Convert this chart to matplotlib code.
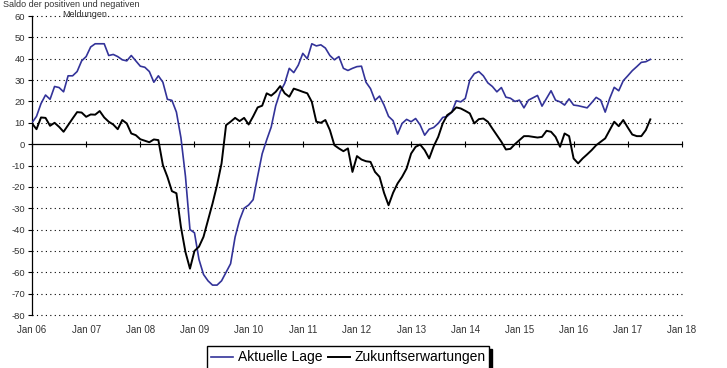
import matplotlib
matplotlib.use('Agg')
import matplotlib.pyplot as plt
import numpy as np

plt.rcParams['font.family'] = ['Liberation Sans', 'DejaVu Sans']
plt.rcParams['axes.unicode_minus'] = False

# monthly values, Jan 2006 .. Jun 2017
aktuelle_lage = [
    10, 13, 19, 23, 21, 27, 26.5, 24.5, 32, 32, 34, 39,
    41, 45.5, 47, 47, 47, 41.5, 42, 41, 39.5, 39, 41.5, 39,
    36.5, 36, 34, 29, 32, 29, 21, 20.5, 15, 3, -15, -40,
    -41.5, -54, -61, -64, -66, -66, -64, -60, -56, -43.5, -35.5, -30,
    -28.5, -26, -15, -4.5, 2, 8, 18, 24.5, 28.5, 35.5, 33.5, 37,
    42.5, 40, 47, 46, 46.5, 45, 41.5, 39.5, 41, 35.5, 34.5, 35.5,
    36.3, 36.5, 29, 26, 20.5, 22.5, 18.3, 13, 11, 4.7, 9.7, 11.6,
    10.5, 12, 9, 4.2, 7, 7.8, 9.7, 12.5, 13, 15, 20.3, 19.8,
    21.4, 30, 33, 34, 32, 28.7, 27, 24.5, 26.5, 22, 21.5, 20,
    20.6, 17, 20.6, 21.7, 22.8, 17.8, 21.4, 25, 20.6, 19.8, 18.3, 21.2,
    18.3, 18, 17.5, 17, 19.4, 21.9, 20.6, 15, 21.4, 26.6, 25, 29.7,
    32, 34.4, 36.3, 38.3, 38.6, 39.7,
]
zukunftserwartungen = [
    9.7, 7, 12.5, 12.3, 8.6, 10, 8.1, 5.8, 8.9, 12, 15, 14.8,
    12.8, 13.9, 13.8, 15.5, 12.5, 10.5, 9.2, 7, 11.3, 9.7, 5, 4.2,
    2.3, 1.6, 0.9, 2.2, 1.9, -9.8, -15.3, -22, -23, -38.8, -50.5, -58.3,
    -50, -48, -43.4, -35.6, -27.8, -19.2, -9, 8.9, 10.5, 12.3, 10.8, 12.3,
    9.2, 13, 17.2, 18, 23.8, 22.7, 24.5, 27.2, 23.8, 22.2, 26, 25.3,
    24.5, 23.8, 19.8, 10.5, 10, 11.3, 6.6, -0.5, -2, -3.3, -2, -13,
    -5.6, -7.2, -8, -8.3, -13, -15.3, -22.8, -28.6, -22.8, -18.4, -15.3, -11.4,
    -4.4, -1.25, -0.2, -2.8, -6.7, -1, 3.4, 9.7, 13.6, 15, 17.2, 16.7,
    15.6, 14.4, 9.7, 11.7, 12, 10.5, 7.3, 4.2, 1.1, -2.5, -2.2, 0,
    1.9, 3.75, 3.75, 3.4, 3.1, 3.4, 6.25, 5.8, 3.4, -1.25, 5, 3.75,
    -6.7, -9, -6.7, -4.8, -2.8, -0.5, 1.1, 2.7, 6.6, 10.5, 8.4, 11.3,
    7.8, 4.5, 3.75, 3.75, 6.6, 11.6,
]
year_labels = ['Jan 06', 'Jan 07', 'Jan 08', 'Jan 09', 'Jan 10', 'Jan 11', 'Jan 12',
               'Jan 13', 'Jan 14', 'Jan 15', 'Jan 16', 'Jan 17', 'Jan 18']
y_ticks = list(range(-80, 61, 10))

months = np.arange(len(aktuelle_lage))
tick_pos = np.arange(len(year_labels)) * 12

fig = plt.figure(figsize=(7.27, 3.68), dpi=100)
ax = fig.add_axes([0.044, 0.144, 0.894, 0.8125])

# dotted horizontal grid
for v in y_ticks:
    if v != 0:
        ax.axhline(v, color='black', linestyle=(0, (1, 3)), linewidth=0.8, zorder=1, clip_on=False)

l1, = ax.plot(months, aktuelle_lage, color='#333399', linewidth=1.2, zorder=3)
l2, = ax.plot(months, zukunftserwartungen, color='black', linewidth=1.4, zorder=4)

ax.set_xlim(0, tick_pos[-1])
ax.set_ylim(-80, 60)

# x axis line sits at zero, labels stay at the bottom
ax.spines['top'].set_visible(False)
ax.spines['right'].set_visible(False)
ax.spines['bottom'].set_position(('data', 0))
ax.spines['bottom'].set_linewidth(0.9)
ax.spines['left'].set_linewidth(0.9)
ax.set_xticks(tick_pos)
ax.tick_params(axis='x', direction='inout', length=4, width=0.8, labelbottom=False)
ax.set_yticks(y_ticks)
ax.tick_params(axis='y', direction='out', length=3, width=0.8, labelsize=6.8,
               labelcolor='#333333', pad=2)

sec = ax.secondary_xaxis('bottom')
sec.set_xticks(tick_pos)
sec.set_xticklabels(year_labels)
sec.tick_params(length=0, labelsize=7, labelcolor='#333333', pad=7)
sec.spines['bottom'].set_visible(False)

fig.text(0.004, 0.982, 'Saldo der positiven und negativen', fontsize=6.5, color='#333333')
fig.text(0.085, 0.955, 'Meldungen', fontsize=6.5, color='#333333')

leg = fig.legend([l1, l2], ['Aktuelle Lage', 'Zukunftserwartungen'], loc='upper center',
                 bbox_to_anchor=(0.479, 0.078), ncol=2, fontsize=10, frameon=True,
                 fancybox=False, edgecolor='black', handlelength=1.6, handletextpad=0.3,
                 columnspacing=0.4, borderpad=0.3,
                 shadow={'color': 'black', 'alpha': 1, 'ox': 2, 'oy': -2})
leg.get_frame().set_linewidth(1.0)

fig.savefig('out.png', dpi=100)
